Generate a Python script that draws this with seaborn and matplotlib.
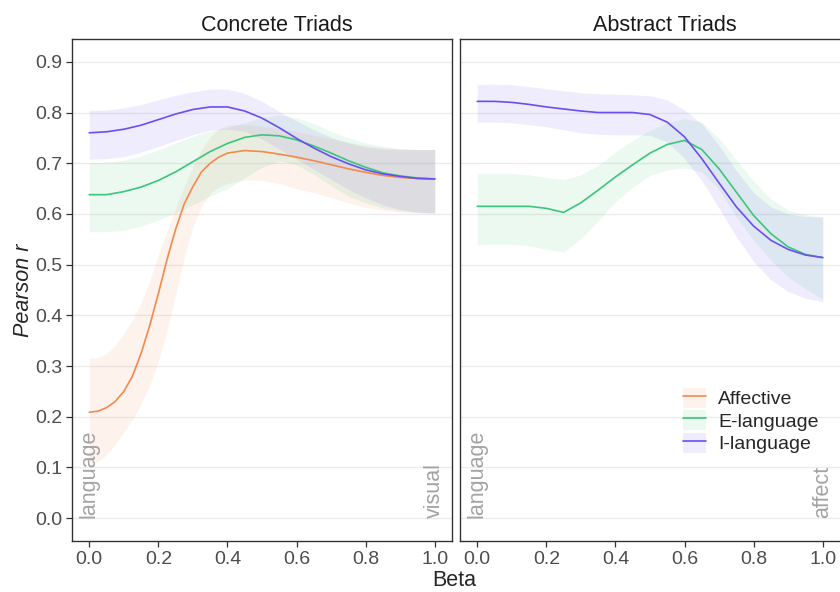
import matplotlib
matplotlib.use("Agg")
import pandas as pd
import matplotlib.pyplot as plt
import seaborn as sns
from matplotlib.patches import Patch
from matplotlib.lines import Line2D

beta = [0.0, 0.05, 0.1, 0.15, 0.2, 0.25, 0.3, 0.35, 0.4, 0.45, 0.5,
        0.55, 0.6, 0.65, 0.7, 0.75, 0.8, 0.85, 0.9, 0.95, 1.0]
beta_aff = [0.0, 0.025, 0.05, 0.075, 0.1, 0.125, 0.15, 0.175, 0.2, 0.225, 0.25,
            0.275, 0.3, 0.325, 0.35, 0.375, 0.4, 0.45, 0.5, 0.55, 0.6, 0.65,
            0.7, 0.75, 0.8, 0.85, 0.9, 0.95, 1.0]

# Concrete triads
conc_aff = [0.209, 0.211, 0.218, 0.230, 0.250, 0.280, 0.325, 0.380, 0.443, 0.510, 0.570,
            0.620, 0.654, 0.683, 0.700, 0.712, 0.720, 0.725, 0.723, 0.718, 0.712, 0.705,
            0.697, 0.689, 0.682, 0.676, 0.672, 0.670, 0.669]
conc_aff_lo = [0.103, 0.112, 0.125, 0.145, 0.170, 0.195, 0.225, 0.262, 0.310, 0.370, 0.440,
               0.515, 0.575, 0.615, 0.640, 0.653, 0.660, 0.667, 0.666, 0.660, 0.650, 0.642,
               0.632, 0.622, 0.613, 0.607, 0.604, 0.602, 0.601]
conc_aff_hi = [0.315, 0.317, 0.325, 0.341, 0.364, 0.391, 0.425, 0.468, 0.520, 0.566, 0.612,
               0.655, 0.693, 0.727, 0.752, 0.768, 0.775, 0.777, 0.773, 0.768, 0.762, 0.755,
               0.748, 0.741, 0.735, 0.731, 0.728, 0.727, 0.727]
conc_e = [0.638, 0.638, 0.644, 0.653, 0.666, 0.683, 0.703, 0.723, 0.739, 0.751, 0.756,
          0.754, 0.746, 0.734, 0.720, 0.705, 0.692, 0.681, 0.675, 0.671, 0.669]
conc_e_lo = [0.565, 0.565, 0.568, 0.576, 0.588, 0.602, 0.618, 0.635, 0.650, 0.672, 0.692,
             0.705, 0.697, 0.678, 0.656, 0.635, 0.622, 0.612, 0.606, 0.603, 0.602]
conc_e_hi = [0.701, 0.702, 0.706, 0.714, 0.726, 0.740, 0.753, 0.763, 0.770, 0.780, 0.790,
             0.795, 0.790, 0.778, 0.763, 0.750, 0.740, 0.733, 0.729, 0.727, 0.727]
conc_i = [0.760, 0.762, 0.767, 0.775, 0.786, 0.797, 0.806, 0.811, 0.811, 0.803, 0.789,
          0.770, 0.749, 0.730, 0.713, 0.699, 0.687, 0.679, 0.674, 0.670, 0.669]
conc_i_lo = [0.708, 0.709, 0.713, 0.722, 0.733, 0.745, 0.756, 0.765, 0.767, 0.763, 0.748,
             0.728, 0.708, 0.688, 0.668, 0.648, 0.632, 0.618, 0.609, 0.604, 0.602]
conc_i_hi = [0.804, 0.805, 0.809, 0.816, 0.825, 0.834, 0.841, 0.846, 0.846, 0.838, 0.822,
             0.802, 0.783, 0.766, 0.751, 0.740, 0.732, 0.728, 0.727, 0.727, 0.727]

# Abstract triads
abst_e = [0.615, 0.615, 0.615, 0.615, 0.611, 0.603, 0.622, 0.647, 0.673, 0.697, 0.720,
          0.737, 0.745, 0.727, 0.689, 0.643, 0.597, 0.561, 0.535, 0.520, 0.514]
abst_e_lo = [0.540, 0.540, 0.540, 0.538, 0.530, 0.525, 0.551, 0.587, 0.624, 0.653, 0.676,
             0.687, 0.691, 0.683, 0.647, 0.594, 0.548, 0.509, 0.476, 0.452, 0.432]
abst_e_hi = [0.680, 0.680, 0.680, 0.677, 0.672, 0.668, 0.677, 0.696, 0.722, 0.745, 0.765,
             0.780, 0.788, 0.781, 0.749, 0.706, 0.664, 0.630, 0.607, 0.598, 0.594]
abst_i = [0.822, 0.822, 0.820, 0.816, 0.811, 0.807, 0.803, 0.800, 0.800, 0.800, 0.796,
          0.781, 0.752, 0.709, 0.661, 0.614, 0.576, 0.548, 0.530, 0.519, 0.514]
abst_i_lo = [0.781, 0.781, 0.780, 0.776, 0.772, 0.766, 0.760, 0.757, 0.756, 0.756, 0.755,
             0.742, 0.709, 0.666, 0.611, 0.555, 0.506, 0.470, 0.447, 0.434, 0.427]
abst_i_hi = [0.855, 0.856, 0.855, 0.851, 0.847, 0.843, 0.839, 0.837, 0.836, 0.835, 0.833,
             0.825, 0.805, 0.778, 0.735, 0.685, 0.642, 0.614, 0.600, 0.595, 0.594]

series = ["Affective", "E-language", "I-language"]
colors = {"Affective": "#F4894B", "E-language": "#3DC57B", "I-language": "#6B4EF2"}

rows = []
for panel, name, xs, r, lo, hi in [
        ("Concrete Triads", "Affective", beta_aff, conc_aff, conc_aff_lo, conc_aff_hi),
        ("Concrete Triads", "E-language", beta, conc_e, conc_e_lo, conc_e_hi),
        ("Concrete Triads", "I-language", beta, conc_i, conc_i_lo, conc_i_hi),
        ("Abstract Triads", "E-language", beta, abst_e, abst_e_lo, abst_e_hi),
        ("Abstract Triads", "I-language", beta, abst_i, abst_i_lo, abst_i_hi)]:
    for b, v, l, h in zip(xs, r, lo, hi):
        rows.append((panel, name, b, v, l, h))
df = pd.DataFrame(rows, columns=["panel", "series", "beta", "r", "lo", "hi"])

sns.set_style("white")
plt.rcParams["font.family"] = ["Liberation Sans", "DejaVu Sans"]

fig = plt.figure(figsize=(8.4, 5.92), dpi=100)
W, H = 840, 592
ax1 = fig.add_axes([72 / W, 51 / H, 380 / W, 502 / H])
ax2 = fig.add_axes([460 / W, 51 / H, 380 / W, 502 / H])

corner_text = {"Concrete Triads": "visual", "Abstract Triads": "affect"}

for ax, panel in [(ax1, "Concrete Triads"), (ax2, "Abstract Triads")]:
    sub = df[df["panel"] == panel]
    for name in series:
        s = sub[sub["series"] == name]
        if len(s):
            ax.fill_between(s["beta"], s["lo"], s["hi"], color=colors[name],
                            alpha=0.1, linewidth=0)
    sns.lineplot(data=sub, x="beta", y="r", hue="series", palette=colors,
                 hue_order=[n for n in series if n in sub["series"].unique()],
                 linewidth=1.2, legend=False, ax=ax)
    for ln in ax.lines:
        ln.set_solid_joinstyle("round")
    ax.set_xlim(-0.05, 1.05)
    ax.set_ylim(-0.045, 0.945)
    ax.set_xticks([0.0, 0.2, 0.4, 0.6, 0.8, 1.0])
    ax.set_xticklabels(["0.0", "0.2", "0.4", "0.6", "0.8", "1.0"])
    ax.set_yticks([i / 10 for i in range(10)])
    ax.set_yticklabels([f"{i / 10:.1f}" for i in range(10)])
    ax.yaxis.grid(True, color="#ebebeb", linewidth=1.0)
    ax.xaxis.grid(False)
    ax.set_axisbelow(True)
    ax.set_xlabel("")
    ax.set_ylabel("")
    ax.tick_params(axis="both", length=4, width=0.9, color="#333333",
                   labelcolor="#4d4d4d", labelsize=14, pad=3,
                   bottom=True, left=True)
    for sp in ax.spines.values():
        sp.set_color("#333333")
        sp.set_linewidth(1.0)
    ax.set_title(panel, x=0.54, fontsize=15.5, color="#1a1a1a", pad=6)
    ax.text(0.0, 0.0, "language", rotation=90, ha="center", va="bottom",
            fontsize=15.5, color="#a3a3a3")
    ax.text(1.0, 0.0, corner_text[panel], rotation=90, ha="center", va="bottom",
            fontsize=15.5, color="#a3a3a3")

ax2.tick_params(axis="y", left=False, labelleft=False)
ax2.spines["right"].set_visible(False)

handles = [(Patch(facecolor=colors[n], alpha=0.1, edgecolor="none"),
            Line2D([], [], color=colors[n], linewidth=1.2)) for n in series]
ax2.legend(handles, series, loc="lower left", bbox_to_anchor=(0.587, 0.175),
           frameon=False, fontsize=14, handlelength=1.2, handleheight=1.2,
           labelspacing=0.1, handletextpad=0.6, borderpad=0, borderaxespad=0)

fig.text(454 / W, 1 - 580 / H, "Beta", ha="center", va="center", fontsize=15.5)
fig.text(24 / W, 1 - 290 / H, "Pearson r", ha="center", va="center",
         rotation=90, fontsize=15.5, fontstyle="italic")

fig.savefig("out.png", dpi=100)
